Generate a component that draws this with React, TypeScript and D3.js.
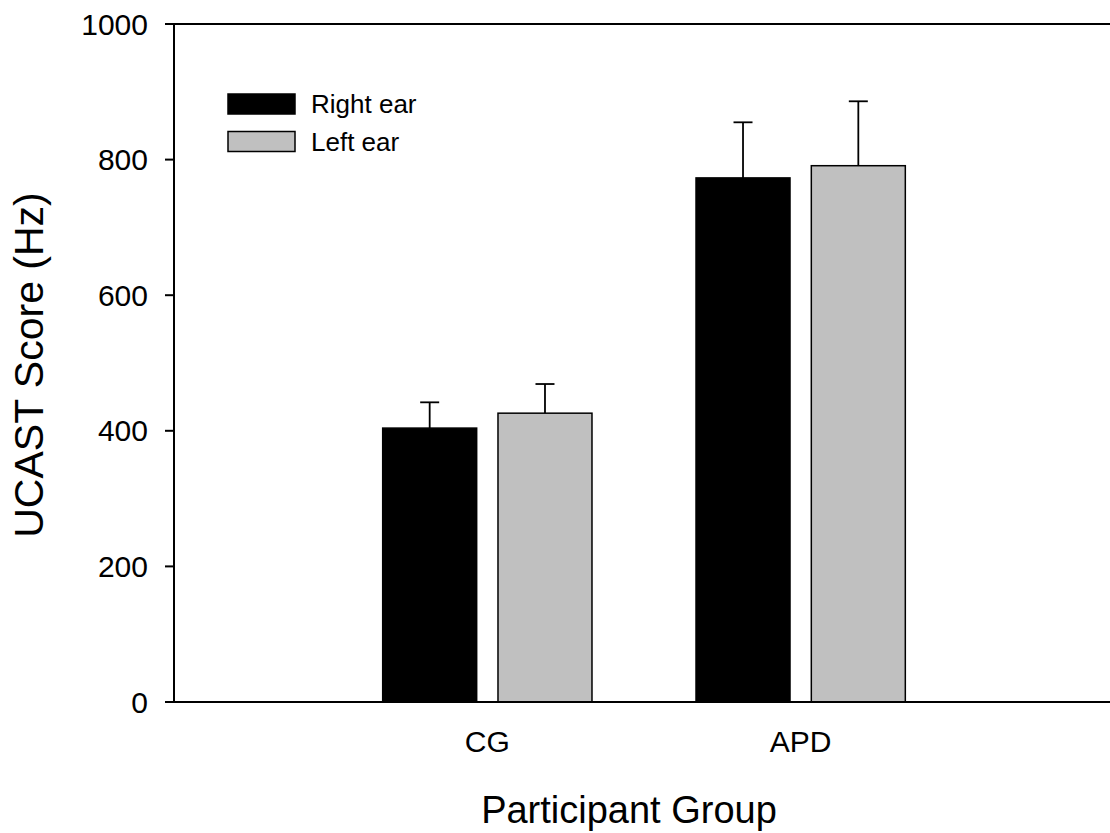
import { useEffect, useRef } from 'react';
import * as d3 from 'd3';

// data
const groups = ['CG', 'APD'];
const seriesNames = ['Right ear', 'Left ear'];
const seriesColors = ['#000000', '#c0c0c0'];
const rightEar = [404, 773];
const rightEarErr = [38, 82];
const leftEar = [426, 791];
const leftEarErr = [43, 95];
const yTicks = [0, 200, 400, 600, 800, 1000];

export default function App() {
  const svgRef = useRef<SVGSVGElement | null>(null);

  useEffect(() => {
    document.body.style.margin = '0';
    if (!svgRef.current) return;

    const svg = d3.select(svgRef.current);
    svg.selectAll('*').remove();

    const width = 1110;
    const left = 174;
    const top = 24;
    const bottom = 702;

    const x = d3.scaleLinear().domain([0, 3]).range([left, left + 940]);
    const y = d3.scaleLinear().domain([0, 1000]).range([bottom, top]);

    const barW = 0.3;
    const gap = 0.034;

    const series = [
      { name: seriesNames[0], values: rightEar, errs: rightEarErr, color: seriesColors[0], offset: -gap - barW },
      { name: seriesNames[1], values: leftEar, errs: leftEarErr, color: seriesColors[1], offset: gap },
    ];

    const g = svg.append('g');

    // error bars first (upper only), bars drawn on top
    series.forEach((s) => {
      groups.forEach((grp, i) => {
        const cx = x(i + 1 + s.offset + barW / 2);
        const yTop = y(s.values[i] + s.errs[i]);
        g.append('line')
          .attr('x1', cx).attr('x2', cx)
          .attr('y1', y(s.values[i])).attr('y2', yTop)
          .attr('stroke', '#000').attr('stroke-width', 1.8);
        g.append('line')
          .attr('x1', cx - 9.5).attr('x2', cx + 9.5)
          .attr('y1', yTop).attr('y2', yTop)
          .attr('stroke', '#000').attr('stroke-width', 1.8);
      });
    });

    series.forEach((s) => {
      g.selectAll(null)
        .data(s.values)
        .enter()
        .append('rect')
        .attr('x', (d, i) => x(i + 1 + s.offset))
        .attr('y', (d) => y(d))
        .attr('width', x(barW) - x(0))
        .attr('height', (d) => y(0) - y(d))
        .attr('fill', s.color)
        .attr('stroke', '#000')
        .attr('stroke-width', 1.5);
    });

    // frame: left axis, top and bottom lines run to the edge
    g.append('line')
      .attr('x1', left).attr('x2', left).attr('y1', top).attr('y2', bottom)
      .attr('stroke', '#000').attr('stroke-width', 2);
    [top, bottom].forEach((yy) => {
      g.append('line')
        .attr('x1', left - 9).attr('x2', width).attr('y1', yy).attr('y2', yy)
        .attr('stroke', '#000').attr('stroke-width', 2);
    });

    // y ticks
    yTicks.forEach((t) => {
      g.append('line')
        .attr('x1', left - 9).attr('x2', left)
        .attr('y1', y(t)).attr('y2', y(t))
        .attr('stroke', '#000').attr('stroke-width', 2);
      g.append('text')
        .attr('x', 148)
        .attr('y', y(t))
        .attr('dy', '0.35em')
        .attr('text-anchor', 'end')
        .style('font-family', 'Liberation Sans, Arial, sans-serif')
        .style('font-size', '30px')
        .text(t);
    });

    // x category labels
    groups.forEach((grp, i) => {
      g.append('text')
        .attr('x', x(i + 1))
        .attr('y', 752)
        .attr('text-anchor', 'middle')
        .style('font-family', 'Liberation Sans, Arial, sans-serif')
        .style('font-size', '30px')
        .text(grp);
    });

    // axis titles
    svg.append('text')
      .attr('x', 629)
      .attr('y', 823)
      .attr('text-anchor', 'middle')
      .style('font-family', 'Liberation Sans, Arial, sans-serif')
      .style('font-size', '38px')
      .text('Participant Group');

    svg.append('text')
      .attr('transform', 'translate(43,365) rotate(-90)')
      .attr('text-anchor', 'middle')
      .style('font-family', 'Liberation Sans, Arial, sans-serif')
      .style('font-size', '41px')
      .text('UCAST Score (Hz)');

    // legend
    const legend = svg.append('g').attr('transform', 'translate(228,94)');
    series.forEach((s, i) => {
      const row = legend.append('g').attr('transform', `translate(0, ${i * 37.5})`);
      row.append('rect')
        .attr('width', 67)
        .attr('height', 20)
        .attr('fill', s.color)
        .attr('stroke', '#000')
        .attr('stroke-width', 1.5);
      row.append('text')
        .attr('x', 83)
        .attr('y', 10)
        .attr('dy', '0.35em')
        .style('font-family', 'Liberation Sans, Arial, sans-serif')
        .style('font-size', '26px')
        .text(s.name);
    });
  }, []);

  return (
    <svg ref={svgRef} width={1110} height={833} style={{ display: 'block', background: '#fff' }} />
  );
}
